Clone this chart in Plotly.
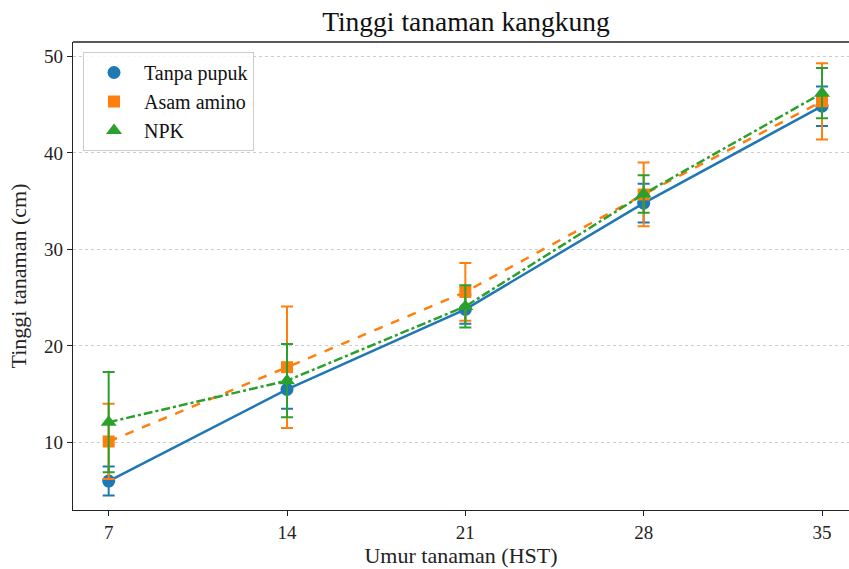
import plotly.graph_objects as go

hst = [7, 14, 21, 28, 35]
series_names = ["Tanpa pupuk", "Asam amino", "NPK"]
tanpa_pupuk = [6.0, 15.5, 23.8, 34.8, 44.85]
tanpa_pupuk_err = [1.5, 2.0, 1.5, 2.0, 2.05]
asam_amino = [10.1, 17.8, 25.6, 35.7, 45.35]
asam_amino_err = [3.9, 6.3, 3.0, 3.3, 3.95]
npk = [12.1, 16.4, 24.1, 35.75, 46.2]
npk_err = [5.2, 3.8, 2.2, 1.95, 2.6]
tick_vals = [7, 14, 21, 28, 35]
tick_text = ["7", "14", "21", "28", "35"]

colors = ["#1f77b4", "#ff7f0e", "#2ca02c"]
symbols = ["circle", "square", "triangle-up"]
dashes = ["solid", "dash", "dashdot"]
sizes = [13, 12, 14]
values = [tanpa_pupuk, asam_amino, npk]
errs = [tanpa_pupuk_err, asam_amino_err, npk_err]

FONT = "Liberation Serif, Times New Roman, serif"

fig = go.Figure()
for name, y, e, c, s, d, sz in zip(series_names, values, errs, colors, symbols, dashes, sizes):
    fig.add_trace(go.Scatter(
        x=hst, y=y, mode="lines+markers", name=name, showlegend=False,
        line=dict(color=c, width=2.5, dash=d),
        marker=dict(color=c, symbol=s, size=sz),
        error_y=dict(type="data", array=e, visible=True, color=c, thickness=2, width=6),
    ))
for name, c, s, sz in zip(series_names, colors, symbols, sizes):
    fig.add_trace(go.Scatter(
        x=[None], y=[None], mode="markers", name=name,
        marker=dict(color=c, symbol=s, size=sz),
    ))

fig.update_layout(
    width=849, height=569,
    margin=dict(l=73, r=0, t=42, b=59, autoexpand=False),
    paper_bgcolor="white", plot_bgcolor="white",
    font=dict(family=FONT, size=19, color="#222222"),
    title=dict(text="Tinggi tanaman kangkung", x=466 / 849, xanchor="center",
               y=1 - 21 / 569, yanchor="middle", font=dict(family=FONT, size=27.5, color="#111111")),
    legend=dict(x=0.0129, y=0.9786, xanchor="left", yanchor="top",
                bgcolor="rgba(255,255,255,0.85)", bordercolor="#cccccc", borderwidth=1,
                font=dict(family=FONT, size=20, color="#111111"),
                tracegroupgap=0, itemwidth=50),
    showlegend=True,
)
fig.update_xaxes(
    range=[5.6, 36.06], tickvals=tick_vals, ticktext=tick_text,
    showgrid=False, zeroline=False, automargin=False,
    showline=True, linecolor="#222222", linewidth=1.3,
    ticks="outside", ticklen=5, tickcolor="#222222",
    title=dict(text="Umur tanaman (HST)", font=dict(family=FONT, size=22), standoff=4),
    tickfont=dict(family=FONT, size=19),
)
fig.update_yaxes(
    range=[3.0, 51.5], tickvals=[10, 20, 30, 40, 50],
    showgrid=True, gridcolor="#cccccc", griddash="dot", gridwidth=1,
    zeroline=False, automargin=False,
    showline=True, linecolor="#222222", linewidth=1.3,
    ticks="outside", ticklen=5, tickcolor="#222222",
    title=dict(text="Tinggi tanaman (cm)", font=dict(family=FONT, size=22), standoff=11),
    tickfont=dict(family=FONT, size=19),
)
fig.add_shape(type="line", xref="paper", yref="paper", x0=0, x1=1, y0=1, y1=1,
              line=dict(color="#222222", width=1.3))

fig.write_html("out.html", config={"displayModeBar": False},
               post_script="document.body.style.margin='0';document.body.style.overflow='hidden';")
